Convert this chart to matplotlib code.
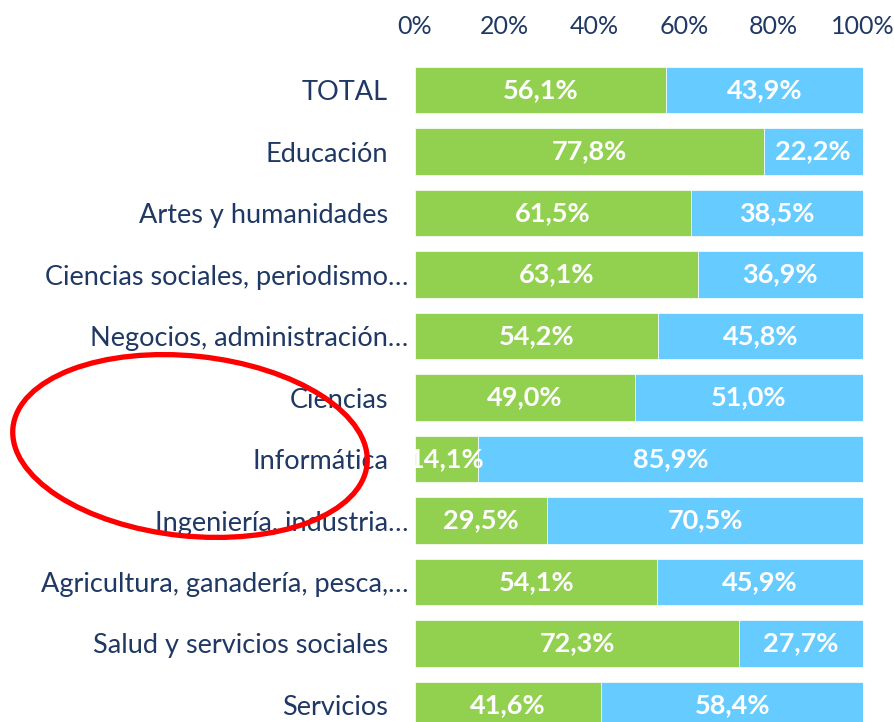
import matplotlib
matplotlib.use("Agg")
import matplotlib.pyplot as plt
from matplotlib.patches import Ellipse

# data
categories = [
    "TOTAL",
    "Educación",
    "Artes y humanidades",
    "Ciencias sociales, periodismo…",
    "Negocios, administración…",
    "Ciencias",
    "Informática",
    "Ingeniería, industria…",
    "Agricultura, ganadería, pesca,…",
    "Salud y servicios sociales",
    "Servicios",
]
women = [56.1, 77.8, 61.5, 63.1, 54.2, 49.0, 14.1, 29.5, 54.1, 72.3, 41.6]
men = [43.9, 22.2, 38.5, 36.9, 45.8, 51.0, 85.9, 70.5, 45.9, 27.7, 58.4]
xticks = [0, 20, 40, 60, 80, 100]

GREEN = "#92D050"
BLUE = "#66CCFF"
TEXT = "#1F3864"

plt.rcParams["font.family"] = ["Lato", "DejaVu Sans"]

W, H = 895, 722
fig = plt.figure(figsize=(W / 100, H / 100), dpi=100)

# axes placed in pixel terms: x 415..863, rows pitch ~61.5 px, first row centred at y=90
n = len(categories)
pitch = 61.5
top_px = 90 - pitch / 2
ax_h = n * pitch
ax = fig.add_axes([415 / W, (H - top_px - ax_h) / H, (863 - 415) / W, ax_h / H])

y = list(range(n))
ax.barh(y, women, height=0.75, color=GREEN, edgecolor="white", linewidth=0.5)
ax.barh(y, men, left=women, height=0.75, color=BLUE, edgecolor="white", linewidth=0.5)

def fmt(v):
    return f"{v:.1f}".replace(".", ",") + "%"

for i, (w, m) in enumerate(zip(women, men)):
    ax.text(w / 2, i, fmt(w), ha="center", va="center", color="white",
            fontsize=19.5, fontweight="bold", clip_on=False)
    ax.text(w + m / 2, i, fmt(m), ha="center", va="center", color="white",
            fontsize=19.5, fontweight="bold", clip_on=False)

ax.set_xlim(0, 100)
ax.set_ylim(n - 0.5, -0.5)
ax.set_yticks(y)
# truncated names sit flush with the bars, full names leave a gap as in the source
ax.set_yticklabels(categories, fontsize=19.5, color=TEXT)
for lab, name in zip(ax.get_yticklabels(), categories):
    if not name.endswith("…"):
        lab.set_x(-20 / 448)
ax.set_xticks(xticks)
ax.set_xticklabels([f"{t}%" for t in xticks], fontsize=18, color=TEXT)
ax.xaxis.tick_top()
ax.tick_params(axis="x", length=0, pad=15)
ax.tick_params(axis="y", length=0, pad=5)
for s in ax.spines.values():
    s.set_visible(False)

# red ellipse highlight, drawn in pixel coordinates on an overlay
ov = fig.add_axes([0, 0, 1, 1], facecolor="none")
ov.set_xlim(0, W)
ov.set_ylim(H, 0)
ov.axis("off")
ov.add_patch(Ellipse((190, 446), 356, 180, angle=6, fill=False,
                     edgecolor="#FF0000", linewidth=3.8))

fig.savefig("out.png", dpi=100)
